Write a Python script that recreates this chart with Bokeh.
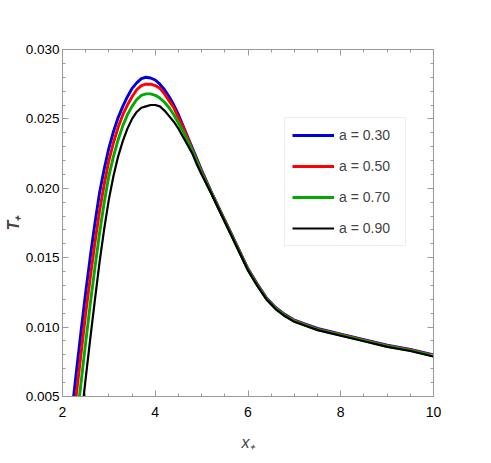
from bokeh.plotting import figure
from bokeh.models import (Legend, LegendItem, LinearAxis, SingleIntervalTicker,
                          PrintfTickFormatter, Range1d)
from bokeh.embed import file_html
from bokeh.resources import INLINE

# ---- data ----
x_vals = [2.2, 2.3, 2.4, 2.5, 2.6, 2.7, 2.8, 2.9, 3.0, 3.1, 3.2, 3.3, 3.4, 3.5, 3.6, 3.7,
          3.8, 3.9, 4.0, 4.1, 4.2, 4.3, 4.4, 4.5, 4.6, 4.7, 4.8, 4.9, 5.0,
          5.2, 5.4, 5.6, 5.8, 6.0, 6.2, 6.4, 6.6, 6.8, 7.0, 7.25, 7.5, 8.0, 8.5, 9.0, 9.5, 10.0]

T_a030 = [0.0038, 0.0068, 0.0097, 0.0125, 0.0151, 0.0175, 0.0197, 0.0214, 0.0229, 0.0241,
          0.0251, 0.0259, 0.0266, 0.0272, 0.0276, 0.0279, 0.0280, 0.02795, 0.0278, 0.0275,
          0.0271, 0.0266, 0.0260, 0.0253, 0.0245, 0.0237, 0.0229, 0.0221, 0.0213,
          0.0198, 0.0184, 0.0170, 0.0156, 0.0142, 0.0131, 0.0121, 0.0114, 0.0109, 0.0105,
          0.0102, 0.0099, 0.0095, 0.0091, 0.0087, 0.0084, 0.0080]
T_a050 = [0.0022, 0.0052, 0.0081, 0.0110, 0.0136, 0.0161, 0.0184, 0.0203, 0.0220, 0.0233,
          0.0244, 0.0253, 0.0260, 0.0266, 0.0271, 0.0274, 0.0275, 0.0275, 0.0274, 0.0272,
          0.0268, 0.0263, 0.0258, 0.0251, 0.0244, 0.0236, 0.0228, 0.0220, 0.0212,
          0.01976, 0.01836, 0.01696, 0.01556, 0.01416, 0.01306, 0.01206, 0.01136, 0.01086,
          0.01046, 0.01016, 0.00986, 0.00946, 0.00906, 0.00866, 0.00836, 0.00796]
T_a070 = [0.0001, 0.0031, 0.0060, 0.0089, 0.0117, 0.0143, 0.0168, 0.0190, 0.0209, 0.0223,
          0.0235, 0.0245, 0.0253, 0.0259, 0.0264, 0.0267, 0.0268, 0.0268, 0.0267, 0.0265,
          0.0262, 0.0258, 0.0253, 0.0247, 0.0241, 0.0234, 0.0227, 0.0219, 0.0211,
          0.01972, 0.01832, 0.01692, 0.01552, 0.01412, 0.01302, 0.01202, 0.01132, 0.01082,
          0.01042, 0.01012, 0.00982, 0.00942, 0.00902, 0.00862, 0.00832, 0.00792]
T_a090 = [-0.0025, 0.0004, 0.0033, 0.0063, 0.0092, 0.0120, 0.0147, 0.0171, 0.0192, 0.0209,
          0.0223, 0.0234, 0.0243, 0.0250, 0.0255, 0.0258, 0.0259, 0.0260, 0.0260, 0.0259,
          0.0256, 0.0252, 0.0248, 0.0243, 0.0237, 0.0231, 0.0225, 0.0217, 0.0210,
          0.01968, 0.01828, 0.01688, 0.01548, 0.01408, 0.01298, 0.01198, 0.01128, 0.01078,
          0.01038, 0.01008, 0.00978, 0.00938, 0.00898, 0.00858, 0.00828, 0.00788]

series_labels = ["a = 0.30", "a = 0.50", "a = 0.70", "a = 0.90"]
series_colors = ["#0000dd", "#ff0000", "#00aa00", "#000000"]
series_widths = [2.9, 2.9, 2.9, 2.2]
series_values = [T_a030, T_a050, T_a070, T_a090]

FONT = "Liberation Sans"
FRAME = "#9a9a9a"

p = figure(width=489, height=461, output_backend="svg", toolbar_location=None,
           x_range=Range1d(2, 10), y_range=Range1d(0.005, 0.030),
           x_axis_type=None, y_axis_type=None,
           min_border_left=62, min_border_right=56, min_border_top=49, min_border_bottom=65)
p.background_fill_color = "white"
p.border_fill_color = "white"
p.outline_line_color = FRAME
p.xgrid.visible = False
p.ygrid.visible = False


def style_axis(ax, show_labels):
    ax.axis_line_color = FRAME
    ax.major_tick_line_color = FRAME
    ax.minor_tick_line_color = FRAME
    ax.major_tick_in = 6
    ax.major_tick_out = 0
    ax.minor_tick_in = 3
    ax.minor_tick_out = 0
    if show_labels:
        ax.major_label_text_font = FONT
        ax.major_label_text_font_size = "14px"
        ax.major_label_text_color = "black"
    else:
        ax.major_label_text_color = None


xticker = SingleIntervalTicker(interval=2, num_minor_ticks=4)
yticker = SingleIntervalTicker(interval=0.005, num_minor_ticks=5)

xb = LinearAxis(ticker=xticker, axis_label="x\u208a")
style_axis(xb, True)
xb.major_label_standoff = 10
xb.axis_label_standoff = 14
xb.axis_label_text_font = FONT
xb.axis_label_text_font_style = "italic"
xb.axis_label_text_font_size = "16px"
p.add_layout(xb, "below")

yl = LinearAxis(ticker=yticker, axis_label="T\u208a",
                formatter=PrintfTickFormatter(format="%.3f"))
style_axis(yl, True)
yl.major_label_text_font_size = "13.5px"
yl.major_label_standoff = 3
yl.axis_label_standoff = 1
yl.axis_label_text_font = FONT
yl.axis_label_text_font_style = "bold italic"
yl.axis_label_text_font_size = "16px"
p.add_layout(yl, "left")

xt = LinearAxis(ticker=xticker)
style_axis(xt, False)
p.add_layout(xt, "above")

yr = LinearAxis(ticker=yticker)
style_axis(yr, False)
p.add_layout(yr, "right")

items = []
for lab, col, lw, vals in zip(series_labels, series_colors, series_widths, series_values):
    r = p.line(x_vals, vals, line_color=col, line_width=lw)
    items.append(LegendItem(label=lab, renderers=[r]))

legend = Legend(items=items, location=(222, 150))
legend.margin = 0
legend.padding = 7
legend.spacing = 11
legend.glyph_width = 42
legend.glyph_height = 20
legend.label_height = 20
legend.label_width = 59
legend.label_standoff = 5
legend.label_text_font = FONT
legend.label_text_font_size = "14px"
legend.border_line_color = "#dddddd"
legend.border_line_width = 1
legend.background_fill_color = "white"
legend.background_fill_alpha = 1.0
p.add_layout(legend, "center")

open("out.html", "w").write(file_html(p, INLINE))
